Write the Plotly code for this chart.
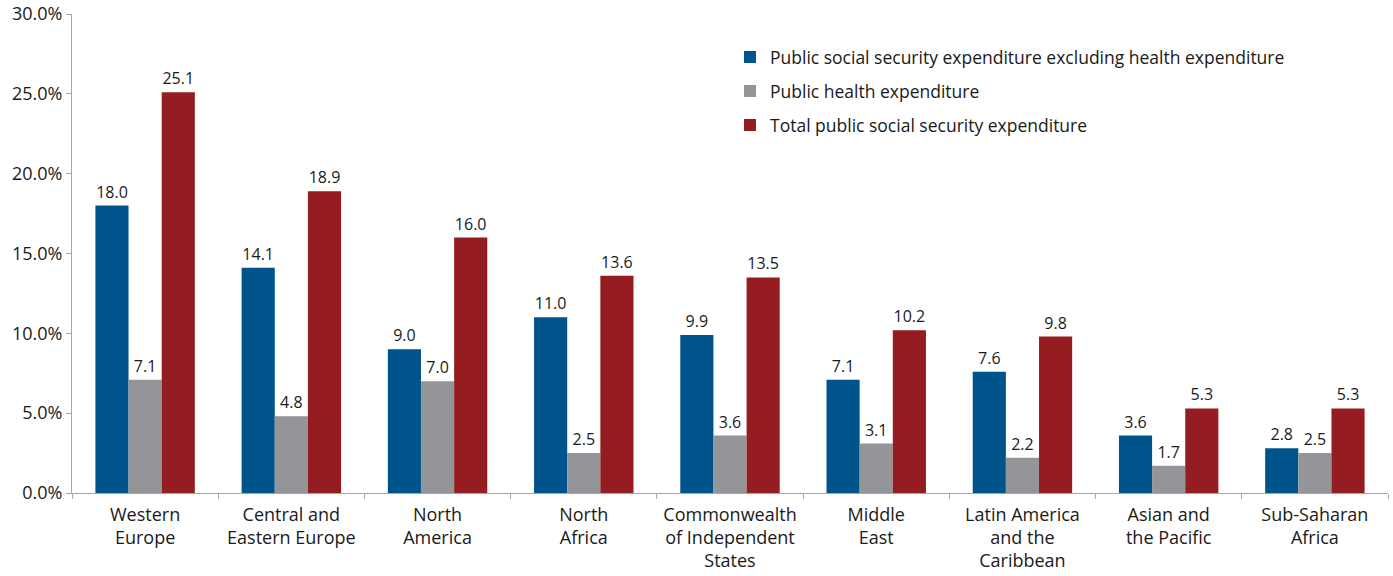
import plotly.graph_objects as go

categories = ["Western<br>Europe", "Central and<br>Eastern Europe", "North<br>America", "North<br>Africa",
              "Commonwealth<br>of Independent<br>States", "Middle<br>East", "Latin America<br>and the<br>Caribbean",
              "Asian and<br>the Pacific", "Sub-Saharan<br>Africa"]
excl_health = [18.0, 14.1, 9.0, 11.0, 9.9, 7.1, 7.6, 3.6, 2.8]
health = [7.1, 4.8, 7.0, 2.5, 3.6, 3.1, 2.2, 1.7, 2.5]
total = [25.1, 18.9, 16.0, 13.6, 13.5, 10.2, 9.8, 5.3, 5.3]
series_names = ["Public social security expenditure excluding health expenditure",
                "Public health expenditure",
                "Total public social security expenditure"]
colors = ["#00548C", "#939598", "#951C20"]

FONT = "Open Sans"
legend_ids = ["legend", "legend2", "legend3"]
legend_y = [0.910, 0.839, 0.768]

fig = go.Figure()
for name, vals, c, lid in zip(series_names, [excl_health, health, total], colors, legend_ids):
    fig.add_trace(go.Bar(
        x=categories, y=vals, name=name, marker_color=c, marker_line_width=0,
        text=[f"{v:.1f}" for v in vals], textposition="outside",
        textfont=dict(size=16, color="#1a1a1a", family=FONT), cliponaxis=False,
        legend=lid,
    ))

legend_common = dict(x=0.500, xanchor="left", yanchor="middle",
                     font=dict(size=17.5, family=FONT, color="#1a1a1a"),
                     bgcolor="rgba(0,0,0,0)")
fig.update_layout(
    width=1393, height=576,
    margin=dict(l=72, r=5, t=14, b=83),
    plot_bgcolor="white", paper_bgcolor="white",
    barmode="group", bargap=0.32, bargroupgap=0,
    font=dict(family=FONT, size=16, color="#1a1a1a"),
    legend=dict(y=legend_y[0], **legend_common),
    legend2=dict(y=legend_y[1], **legend_common),
    legend3=dict(y=legend_y[2], **legend_common),
    showlegend=True,
)
fig.update_yaxes(range=[0, 30], dtick=5, tickformat=".1f", ticksuffix="%",
                 showgrid=False, showline=True, linecolor="#a6a6a6", linewidth=1,
                 ticks="outside", ticklen=5, tickcolor="#a6a6a6", automargin=False,
                 tickfont=dict(size=18, family=FONT), zeroline=False)
fig.update_xaxes(showline=True, linecolor="#a6a6a6", linewidth=1, automargin=False,
                 ticks="outside", ticklen=5, tickcolor="#a6a6a6", tickson="boundaries",
                 ticklabelstandoff=5, tickfont=dict(size=18, family=FONT))
fig.write_html("out.html", config={"displayModeBar": False},
               post_script="document.body.style.margin='0';")
